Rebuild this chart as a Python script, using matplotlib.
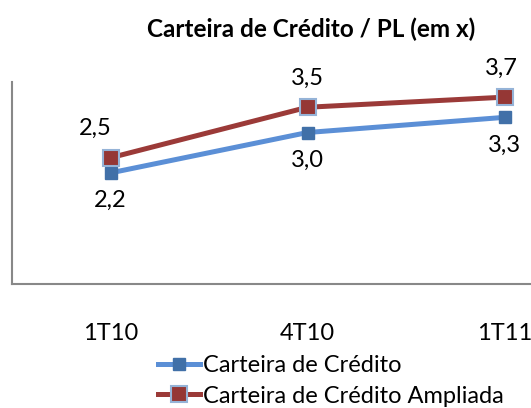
import matplotlib.pyplot as plt

plt.rcParams["font.family"] = ["Lato", "DejaVu Sans"]

# dados
periodos = ["1T10", "4T10", "1T11"]
carteira = [2.2, 3.0, 3.3]
carteira_ampliada = [2.5, 3.5, 3.7]
rotulos_carteira = ["2,2", "3,0", "3,3"]
rotulos_ampliada = ["2,5", "3,5", "3,7"]

W, H = 531, 408
fig = plt.figure(figsize=(W / 100, H / 100), dpi=100)
# eixo mais largo que a figura (a ultima categoria fica cortada)
ax = fig.add_axes([12 / W, (H - 284) / H, 591 / W, 202 / H])

x = range(len(periodos))
ax.plot(x, carteira, color="#5B8FD6", lw=3.6, marker="s", ms=9,
        mfc="#4170A8", mec="#4170A8", label="Carteira de Crédito", zorder=3)
ax.plot(x, carteira_ampliada, color="#9B3A38", lw=3.6, marker="s", ms=12,
        mfc="#953735", mec="#95B3D7", mew=1.5, label="Carteira de Crédito Ampliada", zorder=4)

fs = 17
for i, (v, t) in enumerate(zip(carteira, rotulos_carteira)):
    ax.annotate(t, (i, v), xytext=(0, -20), textcoords="offset points",
                ha="center", va="center", fontsize=fs)
offs = [(-11, 21), (0, 21), (-2, 21)]
for i, (v, t) in enumerate(zip(carteira_ampliada, rotulos_ampliada)):
    ax.annotate(t, (i, v), xytext=offs[i], textcoords="offset points",
                ha="center", va="center", fontsize=fs)

ax.set_xlim(-0.5, 2.5)
ax.set_ylim(0, 4)
ax.set_xticks(list(x))
ax.set_xticklabels(periodos, fontsize=fs)
ax.tick_params(axis="x", length=0, pad=28)
ax.set_yticks([])
for s in ["top", "right"]:
    ax.spines[s].set_visible(False)
for s in ["left", "bottom"]:
    ax.spines[s].set_color("#888888")
    ax.spines[s].set_linewidth(1.5)

fig.text(311 / W, 1 - 29 / H, "Carteira de Crédito / PL (em x)",
         ha="center", va="center", fontsize=17.5, fontweight="bold")

fig.legend(loc="upper left", bbox_to_anchor=(146 / W, 1 - 343 / H),
           frameon=False, fontsize=fs, handlelength=1.8, handletextpad=0.1,
           borderpad=0, labelspacing=0.42)

fig.savefig("out.png", dpi=100)
